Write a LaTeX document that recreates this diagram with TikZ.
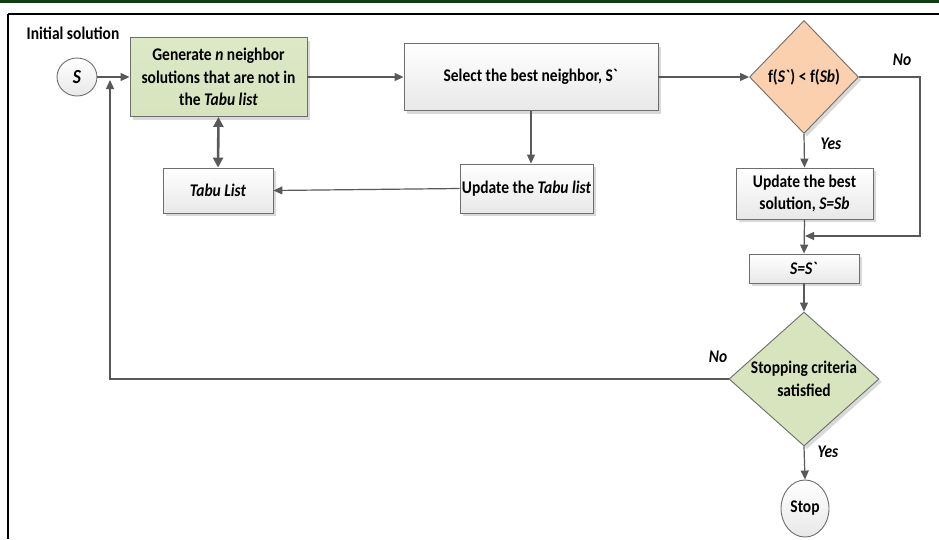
\documentclass[tikz,border=0pt]{standalone}
\usepackage{fontspec}
% narrow-set Carlito: tall glyphs at the usual text width
\setmainfont{Carlito}[FakeStretch=0.87]
\usetikzlibrary{arrows.meta,shapes.geometric,shadows}

\definecolor{linegray}{HTML}{595959}
\definecolor{edgegray}{HTML}{6E6E6E}
\definecolor{olivefill}{HTML}{D7E4BD}
\definecolor{peachfill}{HTML}{FAD0AE}
\definecolor{bandgreen}{HTML}{0E3D10}

\tikzset{
  every node/.style={font=\fontsize{17.8}{22.5}\selectfont\bfseries, text=black},
  softshadow/.style={drop shadow={shadow xshift=3pt, shadow yshift=-3pt, fill=black!15, opacity=1}},
  procbox/.style={draw=edgegray, line width=0.9pt, top color=white, bottom color=black!9,
    align=center, inner sep=0pt, softshadow},
  greenbox/.style={procbox, top color=olivefill!85, bottom color=olivefill},
  roundterm/.style={ellipse, draw=edgegray, line width=0.9pt, top color=white, bottom color=black!9, inner sep=0pt},
  decision/.style={diamond, draw=edgegray, line width=0.9pt, inner sep=0pt, softshadow},
  flow/.style={draw=linegray, line width=1.2pt, -{Triangle[length=9pt,width=8pt]}},
  branch/.style={font=\fontsize{17.8}{22.5}\selectfont\bfseries\itshape}
}

\begin{document}
\begin{tikzpicture}[x=1pt,y=-1pt]
\useasboundingbox (0,0) rectangle (939,539);

% page frame
\fill[bandgreen] (0,0) rectangle (939,2.6);
\draw[black, line width=2pt] (8,14) -- (939,14);
\draw[black, line width=1.2pt] (8,14) -- (8,539);

% nodes
\node (init) at (73,33) {Initial solution};
\node[roundterm, minimum width=40pt, minimum height=38pt] (sol) at (77,77)
  {\fontsize{20}{22}\selectfont\itshape S};
\node[greenbox, minimum width=177pt, minimum height=79pt] (gen) at (218.5,77)
  {Generate \textit{n} neighbor\\solutions that are not in\\the \textit{Tabu list}};
\node[procbox, minimum width=110pt, minimum height=45pt] (tabu) at (218,190.5) {\textit{Tabu List}};
\node[procbox, minimum width=254pt, minimum height=67pt] (sel) at (531,77)
  {Select the best neighbor, S\textasciigrave};
\node[procbox, minimum width=133pt, minimum height=49pt] (upd) at (526.5,188.5)
  {Update the \textit{Tabu list}};
\node[decision, fill=peachfill, minimum width=109pt, minimum height=113pt] (d1) at (804,77) {};
\node at (d1) {f(\textit{S\textasciigrave}) < f(\textit{Sb})};
\node[procbox, minimum width=137pt, minimum height=51pt] (best) at (804.5,193.5)
  {Update the best\\solution, \textit{S=Sb}};
\node[procbox, minimum width=110pt, minimum height=29pt] (ss) at (804,268.5) {\textit{S=S\textasciigrave}};
\node[decision, fill=olivefill, minimum width=150pt, minimum height=134pt] (d2) at (804,379) {};
\node[align=center] at (d2) {Stopping criteria\\satisfied};
\node[roundterm, minimum width=48pt, minimum height=57pt] (stop) at (805,508.5) {Stop};

% branch labels
\node[branch] at (902,60) {No};
\node[branch] at (831,144) {Yes};
\node[branch] at (718,357) {No};
\node[branch] at (828,452) {Yes};

% helper points
\coordinate (merge) at (805,236);
\coordinate (noturn) at (920,77);
\coordinate (loopcorner) at (110,379);
\coordinate (loopend) at (110,80);

% connectors
\draw[flow] (sol.east) -- (gen.west);
\draw[flow] (gen.east) -- (sel.west);
\draw[flow] (sel.east) -- (d1.west);
\draw[draw=linegray, line width=2.6pt, {Triangle[length=10pt,width=10pt]}-{Triangle[length=10pt,width=10pt]}]
  (gen.south) -- (tabu.north);
\draw[flow] (sel.south) -- (sel.south |- upd.north);
\draw[flow] (upd.west) -- (tabu.east);
\draw[flow] (d1.south) -- (best.north);
\draw[flow] (d1.east) -- (noturn) -- (noturn |- merge) -- (merge);
\draw[flow] (best.south) -- (ss.north);
\draw[flow] (ss.south) -- (d2.north);
\draw[flow] (d2.south) -- (stop.north);
\draw[flow] (d2.west) -- (loopcorner) -- (loopend);
\end{tikzpicture}
\end{document}
